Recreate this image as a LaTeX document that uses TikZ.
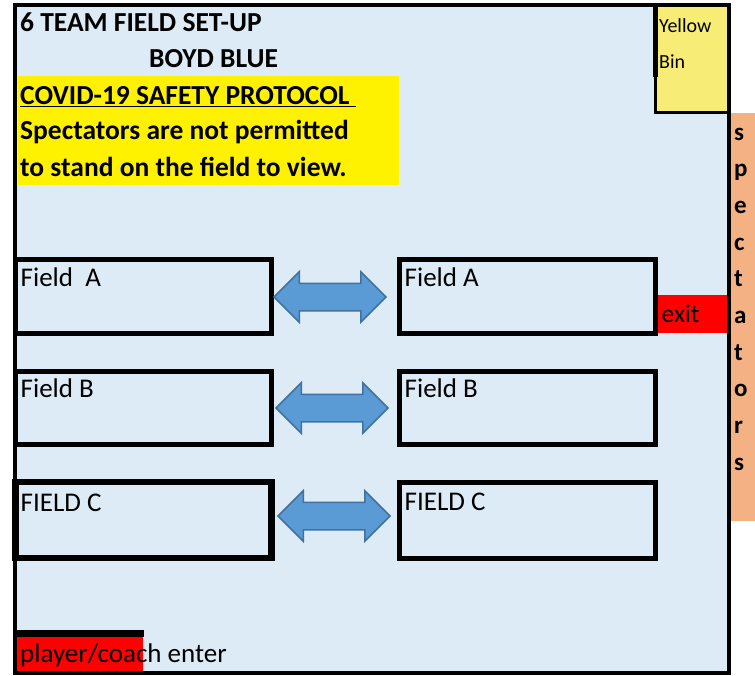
\documentclass[tikz,border=0pt]{standalone}
\usepackage{fontspec}
\setmainfont{Carlito}
\usetikzlibrary{shapes.arrows, positioning}
\definecolor{fieldbg}{RGB}{221,235,247}
\definecolor{binyellow}{RGB}{247,236,117}
\definecolor{specorange}{RGB}{244,177,131}
\definecolor{arrowblue}{RGB}{91,155,213}
\definecolor{arrowedge}{RGB}{65,113,156}

\tikzset{
  field/.style={draw, line width=5pt, minimum width=256pt, minimum height=73.5pt, inner sep=0pt, outer sep=0pt},
  fieldtxt/.style={anchor=base west, inner sep=0pt, font=\fontsize{27}{32}\selectfont},
  headtxt/.style={anchor=base west, inner sep=0pt, font=\fontsize{27.5}{32}\selectfont\bfseries},
  bintxt/.style={anchor=base west, inner sep=0pt, font=\fontsize{20}{24}\selectfont},
  spectxt/.style={anchor=base west, inner sep=0pt, font=\fontsize{25}{30}\selectfont\bfseries},
  swaparrow/.style={double arrow, draw=arrowedge, fill=arrowblue, line width=1.5pt, minimum height=112pt, minimum width=48pt, double arrow head extend=11.5pt, inner xsep=0pt, inner ysep=13pt}
}

\begin{document}
\begin{tikzpicture}[x=1pt, y=-1pt]
\useasboundingbox (0,0) rectangle (755,675);

% backgrounds
\fill[fieldbg] (15,4.5) rectangle (729,672.5);
\fill[yellow] (18,76) rectangle (399,185);
\fill[binyellow] (655,4.5) rectangle (729,112.5);
\fill[specorange] (731,113) rectangle (755,520.5);
\fill[red] (17,637) rectangle (143,672.5);
\fill (15,630) rectangle (143.5,637);

% frame and bin
\draw[line width=4pt] (15,4.5) rectangle (729,672.5);
\draw[line width=5pt] (655,4.5) -- (655,77);
\draw[line width=3pt] (655,77) -- (655,112.5) -- (729,112.5);

% heading
\node[headtxt] (setup) at (20,31.5) {6 TEAM FIELD SET-UP};
\node[headtxt] (boyd) at (149,67.5) {BOYD BLUE};
\node[headtxt] (covid) at (20,104.5) {\underline{COVID-19 SAFETY PROTOCOL\ }};
\node[headtxt] (rule1) at (20,139.5) {Spectators are not permitted};
\node[headtxt] (rule2) at (20,176) {to stand on the field to view.};

\node[bintxt] (bin1) at (659,32) {Yellow};
\node[bintxt] (bin2) at (659,68) {Bin};

% fields
\node[field] (fAL) at (143.5,296.25) {};
\node[field] (fAR) at (527.5,296.25) {};
\node[field, minimum height=73pt] (fBL) at (143.5,407.5) {};
\node[field, minimum height=73pt] (fBR) at (527.5,407.5) {};
\node[field, minimum height=76pt, line width=6.5pt] (fCL) at (143.5,520) {};
\node[field, minimum height=76pt] (fCR) at (527.5,520) {};
\foreach \f/\t/\dy in {fAL/Field~~A/26.5, fAR/Field A/26.5, fBL/Field B/26.5, fBR/Field B/26.5, fCL/FIELD C/29, fCR/FIELD C/28.5}
  \node[fieldtxt] (\f-txt) at ([xshift=5pt,yshift=-\dy pt]\f.north west) {\t};

\node[swaparrow] (swA) at (330,297) {};
\node[swaparrow] (swB) at (332,408) {};
\node[swaparrow] (swC) at (334,516) {};

% exits and spectators
\node[fill=red, minimum width=69pt, minimum height=37.5pt, text width=61pt, inner xsep=4pt, outer sep=0pt, font=\fontsize{25.5}{30}\selectfont] (exit) at (692.2,313.9) {exit};
\foreach \l [count=\i from 0] in {s,p,e,c,t,a,t,o,r,s}
  \node[spectxt] (spec\i) at (734,140+36.7*\i) {\l};
\node[fieldtxt] (enter) at (20,662) {player/coach enter};

\end{tikzpicture}
\end{document}
